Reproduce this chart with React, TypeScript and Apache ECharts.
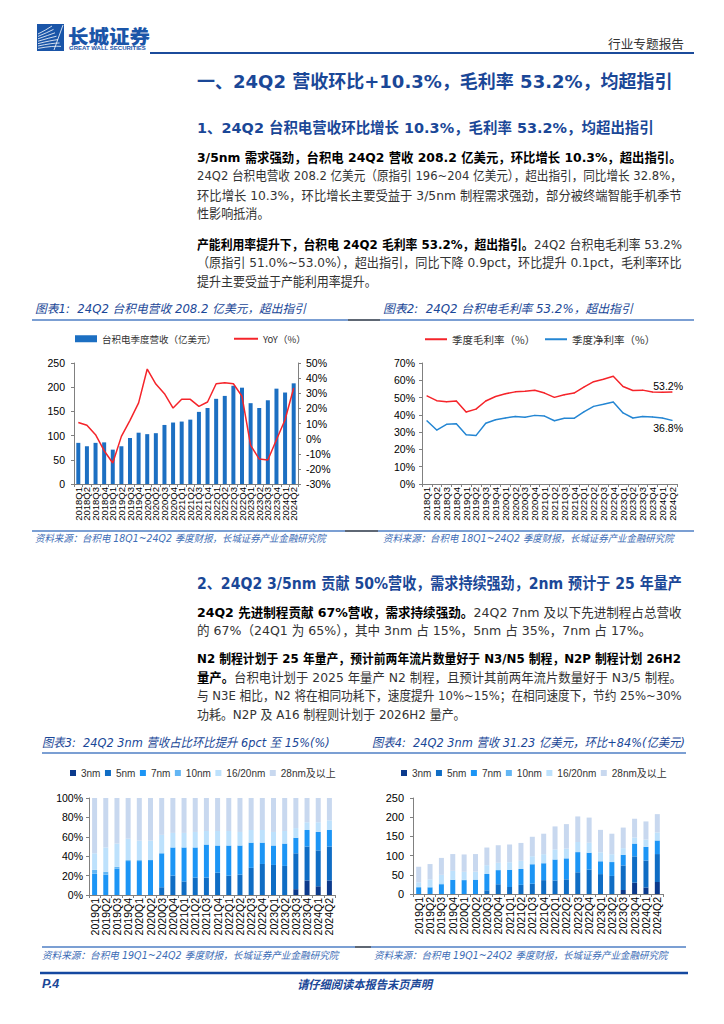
import React, { useEffect, useRef } from 'react';
import * as echarts from 'echarts';

// ---------------- DATA ----------------
const quarters18 = ['2018Q1','2018Q2','2018Q3','2018Q4','2019Q1','2019Q2','2019Q3','2019Q4','2020Q1','2020Q2','2020Q3','2020Q4','2021Q1','2021Q2','2021Q3','2021Q4','2022Q1','2022Q2','2022Q3','2022Q4','2023Q1','2023Q2','2023Q3','2023Q4','2024Q1','2024Q2'];
const quarters19 = ['2019Q1','2019Q2','2019Q3','2019Q4','2020Q1','2020Q2','2020Q3','2020Q4','2021Q1','2021Q2','2021Q3','2021Q4','2022Q1','2022Q2','2022Q3','2022Q4','2023Q1','2023Q2','2023Q3','2023Q4','2024Q1','2024Q2'];

const revenue = [85, 78, 85, 86, 71, 78, 95, 106, 103, 105, 122, 127, 129, 133, 149, 157, 176, 182, 203, 199, 167, 157, 173, 197, 189, 208];
const revenueYoY = [10.7, 8.8, 2.6, -8, -16.1, 1.5, 12.1, 23.6, 46, 36.1, 29.7, 20.2, 26, 26, 21.3, 24.2, 36.3, 37, 36.3, 28, -4.4, -13.5, -14.1, -0.7, 12.5, 33.5];
const grossMargin = [51.0, 48.2, 47.6, 48.0, 41.6, 43.3, 48.0, 50.6, 52.2, 53.3, 53.6, 54.2, 52.6, 50.1, 51.6, 52.6, 56.0, 59.2, 60.6, 62.3, 56.4, 54.1, 54.3, 53.2, 53.1, 53.2];
const netMargin = [36.6, 31.2, 34.5, 34.9, 28.5, 28.0, 35.1, 37.2, 38.2, 39.1, 38.6, 39.7, 39.3, 36.6, 38.0, 38.0, 41.7, 44.9, 46.1, 47.4, 41.1, 38.2, 39.1, 38.8, 38.2, 36.8];

const nodeNames = ['3nm', '5nm', '7nm', '10nm', '16/20nm', '28nm及以上'];

// share of revenue by node (%)
const share3nm = [0, 0, 0, 0, 0, 0, 0, 0, 0, 0, 0, 0, 0, 0, 0, 0, 0, 0, 6, 15, 9, 15];
const share5nm = [0, 0, 0, 0, 0, 0, 8, 20, 14, 18, 18, 23, 20, 21, 28, 32, 31, 30, 37, 35, 37, 35];
const share7nm = [22, 21, 27, 35, 35, 36, 35, 29, 35, 31, 34, 28, 31, 30, 26, 22, 20, 23, 16, 17, 19, 17];
const share10nm = [4, 3, 2, 1, 1, 0, 0, 0, 0, 0, 0, 0, 0, 0, 0, 0, 0, 0, 0, 0, 0, 0];
const share16nm = [17, 25, 24, 22, 20, 20, 19, 15, 15, 16, 14, 15, 15, 14, 13, 13, 14, 13, 10, 8, 10, 10];
const share28nm = [57, 51, 47, 42, 44, 44, 38, 36, 36, 35, 34, 34, 34, 35, 33, 33, 35, 34, 31, 25, 25, 23];

// revenue by node (亿美元)
const rev3nm = [0, 0, 0, 0, 0, 0, 0, 0, 0, 0, 0, 0, 0, 0, 0, 0, 0, 0, 10.4, 29.4, 17.0, 31.2];
const rev5nm = [0, 0, 0, 0, 0, 0, 9.7, 25.4, 18.1, 23.9, 26.8, 36.1, 35.2, 38.2, 56.6, 63.7, 51.8, 47.1, 64.0, 68.6, 69.9, 72.8];
const rev7nm = [15.6, 16.4, 25.4, 36.4, 36.1, 37.4, 42.4, 36.8, 45.2, 41.2, 50.7, 44.0, 54.6, 54.6, 52.5, 43.8, 33.4, 36.1, 27.7, 33.3, 35.9, 35.4];
const rev10nm = [2.8, 2.3, 1.9, 1.0, 1.0, 0, 0, 0, 0, 0, 0, 0, 0, 0, 0, 0, 0, 0, 0, 0, 0, 0];
const rev16nm = [12.1, 19.5, 22.6, 22.9, 20.6, 20.8, 23.0, 19.1, 19.4, 21.3, 20.9, 23.6, 26.4, 25.5, 26.3, 25.9, 23.4, 20.4, 17.3, 15.7, 18.9, 20.8];
const rev28nm = [40.5, 39.8, 44.1, 43.7, 45.3, 45.8, 45.9, 45.7, 46.3, 46.6, 50.6, 53.3, 59.8, 63.7, 66.6, 65.6, 58.4, 53.4, 53.6, 49.0, 47.3, 47.8];

// ---------------- STYLE ----------------
const NODE_COLORS = ['#0b3a8c', '#0f6dc4', '#1c95f5', '#62b6f4', '#bde1fc', '#c8d8ef'];
const BAR_BLUE = '#1c6fc2';
const RED = '#f5242a';
const LINE_BLUE = '#2486d3';
const DARK_BLUE = '#1a4797';
const SRC_BLUE = '#3d6db6';
const BODY = '"DejaVu Sans", "Noto Sans CJK SC", sans-serif';
const CJK = '"Noto Sans CJK SC", sans-serif';
const NUM = '"Liberation Sans", "Noto Sans CJK SC", sans-serif';

type Seg = { t: string; b?: boolean };

let measureCtx: CanvasRenderingContext2D | null = null;
function measureSegs(segs: Seg[], size: number, family: string, italic?: boolean, allBold?: boolean) {
  if (!measureCtx) measureCtx = document.createElement('canvas').getContext('2d');
  let w = 0;
  for (const s of segs) {
    const bold = allBold || s.b;
    measureCtx!.font = `${italic ? 'italic ' : ''}${bold ? 'bold ' : ''}${size}px ${family}`;
    w += measureCtx!.measureText(s.t).width;
  }
  return w;
}

type TOpt = { size: number; family?: string; color?: string; boldColor?: string; italic?: boolean; bold?: boolean; width?: number; scale?: number; align?: string; weight?: string };

function txt(x: number, y: number, segs: Seg[], o: TOpt) {
  const fam = o.family || BODY;
  const w = measureSegs(segs, o.size, fam, o.italic, o.bold);
  const sx = o.width ? o.width / w : (o.scale ?? 1);
  const mk = (b: boolean) => ({
    fontSize: o.size,
    fontFamily: fam,
    fontWeight: o.weight ? o.weight : (b || o.bold ? 'bold' : 'normal'),
    fontStyle: o.italic ? 'italic' : 'normal',
    fill: b ? (o.boldColor || o.color || '#000') : (o.color || '#333'),
  });
  const align = o.align || 'left';
  return {
    el: {
      type: 'text',
      x,
      y,
      scaleX: sx,
      silent: true,
      style: {
        text: segs.map((s) => `{${s.b ? 'b' : 'n'}|${s.t}}`).join(''),
        rich: { b: mk(true), n: mk(false) },
        fontSize: o.size,
        fontFamily: fam,
        align,
        textAlign: align,
        verticalAlign: 'middle',
        textVerticalAlign: 'middle',
      },
    },
    sx,
  };
}

function para(x: number, ys: number[], lines: { segs: Seg[]; full: boolean }[], size: number, width: number) {
  const res: any[] = [];
  const scales: number[] = [];
  lines.forEach((l) => {
    if (l.full) {
      const w = measureSegs(l.segs, size, BODY);
      scales.push(width / w);
    }
  });
  const avg = scales.length ? scales.reduce((a, b) => a + b, 0) / scales.length : 0.85;
  lines.forEach((l, i) => {
    res.push(txt(x, ys[i], l.segs, { size, color: '#333', boldColor: '#000', width: l.full ? width : undefined, scale: avg }).el);
  });
  return res;
}

function buildGraphics() {
  const g: any[] = [];
  // logo
  g.push({ type: 'rect', shape: { x: 37, y: 24, width: 27, height: 27 }, style: { fill: '#1a55a8' }, silent: true });
  for (let i = 0; i < 7; i++) {
    g.push({
      type: 'bezierCurve',
      shape: { x1: 38, y1: 34 + i * 2.4, cpx1: 46 + i * 1.2, cpy1: 30 + i * 2.6, x2: 52 + i * 1.5, y2: 26 + i * 3.4 },
      style: { stroke: '#ffffff', lineWidth: 0.8, fill: 'none' },
      silent: true,
    });
  }
  g.push({ type: 'line', shape: { x1: 54, y1: 50, x2: 63, y2: 25 }, style: { stroke: '#ffffff', lineWidth: 0.8 }, silent: true });
  g.push(txt(68, 36, [{ t: '长城证券' }], { size: 19, family: CJK, weight: '900', color: '#1a55a8', width: 82 }).el);
  g.push(txt(69, 48.5, [{ t: 'GREAT WALL SECURITIES' }], { size: 6, family: NUM, bold: true, color: '#1a55a8', width: 77 }).el);
  g.push(txt(684, 44, [{ t: '行业专题报告' }], { size: 12.5, family: CJK, color: '#333', width: 76, align: 'right' }).el);
  g.push({ type: 'line', shape: { x1: 150, y1: 53, x2: 694, y2: 53 }, style: { stroke: '#1b4b9b', lineWidth: 2 }, silent: true });

  // titles
  g.push(txt(197, 82, [{ t: '一、24Q2 营收环比+10.3%，毛利率 53.2%，均超指引' }], { size: 18, bold: true, color: DARK_BLUE, width: 476 }).el);
  g.push(txt(197, 128, [{ t: '1、24Q2 台积电营收环比增长 10.3%，毛利率 53.2%，均超出指引' }], { size: 14.5, bold: true, color: DARK_BLUE, width: 457 }).el);

  g.push(...para(197, [157, 176, 195, 213], [
    { segs: [{ t: '3/5nm 需求强劲，台积电 24Q2 营收 208.2 亿美元，环比增长 10.3%，超出指引。', b: true }], full: true },
    { segs: [{ t: '24Q2 台积电营收 208.2 亿美元（原指引 196~204 亿美元），超出指引，同比增长 32.8%，' }], full: true },
    { segs: [{ t: '环比增长 10.3%，环比增长主要受益于 3/5nm 制程需求强劲，部分被终端智能手机季节' }], full: true },
    { segs: [{ t: '性影响抵消。' }], full: false },
  ], 13, 485));
  g.push(...para(197, [244, 262, 281], [
    { segs: [{ t: '产能利用率提升下，台积电 24Q2 毛利率 53.2%，超出指引。', b: true }, { t: '24Q2 台积电毛利率 53.2%' }], full: true },
    { segs: [{ t: '（原指引 51.0%~53.0%），超出指引，同比下降 0.9pct，环比提升 0.1pct，毛利率环比' }], full: true },
    { segs: [{ t: '提升主要受益于产能利用率提升。' }], full: false },
  ], 13, 485));

  // chart 1/2 titles & lines
  g.push(txt(35, 309, [{ t: '图表1:  24Q2 台积电营收 208.2 亿美元，超出指引' }], { size: 12, italic: true, color: DARK_BLUE, width: 271 }).el);
  g.push(txt(383, 309, [{ t: '图表2:  24Q2 台积电毛利率 53.2%，超出指引' }], { size: 12, italic: true, color: DARK_BLUE, width: 250 }).el);
  g.push({ type: 'line', shape: { x1: 32, y1: 320, x2: 694, y2: 320 }, style: { stroke: '#4f7fc4', lineWidth: 1.5 }, silent: true });
  g.push({ type: 'line', shape: { x1: 348, y1: 320, x2: 380, y2: 320 }, style: { stroke: '#555555', lineWidth: 1.5 }, silent: true });
  g.push({ type: 'line', shape: { x1: 32, y1: 531, x2: 694, y2: 531 }, style: { stroke: '#4f7fc4', lineWidth: 1.5 }, silent: true });
  g.push({ type: 'line', shape: { x1: 345, y1: 531, x2: 378, y2: 531 }, style: { stroke: '#555555', lineWidth: 1.5 }, silent: true });
  g.push(txt(35, 538, [{ t: '资料来源：台积电 18Q1~24Q2 季度财报，长城证券产业金融研究院' }], { size: 10, italic: true, color: SRC_BLUE, width: 291 }).el);
  g.push(txt(383, 538, [{ t: '资料来源：台积电 18Q1~24Q2 季度财报，长城证券产业金融研究院' }], { size: 10, italic: true, color: SRC_BLUE, width: 291 }).el);

  // section 2
  g.push(txt(197, 583, [{ t: '2、24Q2 3/5nm 贡献 50%营收，需求持续强劲，2nm 预计于 25 年量产' }], { size: 15.5, bold: true, color: DARK_BLUE, width: 485 }).el);
  g.push(...para(197, [612, 630], [
    { segs: [{ t: '24Q2 先进制程贡献 67%营收，需求持续强劲。', b: true }, { t: '24Q2 7nm 及以下先进制程占总营收' }], full: true },
    { segs: [{ t: '的 67%（24Q1 为 65%），其中 3nm 占 15%，5nm 占 35%，7nm 占 17%。' }], full: false },
  ], 13, 485));
  g.push(...para(197, [658, 677, 696, 714], [
    { segs: [{ t: 'N2 制程计划于 25 年量产，预计前两年流片数量好于 N3/N5 制程，N2P 制程计划 26H2', b: true }], full: true },
    { segs: [{ t: '量产。', b: true }, { t: '台积电计划于 2025 年量产 N2 制程，且预计其前两年流片数量好于 N3/5 制程。' }], full: true },
    { segs: [{ t: '与 N3E 相比，N2 将在相同功耗下，速度提升 10%~15%；在相同速度下，节约 25%~30%' }], full: true },
    { segs: [{ t: '功耗。N2P 及 A16 制程则计划于 2026H2 量产。' }], full: false },
  ], 13, 485));

  // chart 3/4 titles & lines
  const t3 = txt(42, 743, [{ t: '图表3:  24Q2 3nm 营收占比环比提升 6pct 至 15%(%)' }], { size: 12.5, italic: true, color: DARK_BLUE, width: 288 });
  g.push(t3.el);
  g.push(txt(372, 743, [{ t: '图表4:  24Q2 3nm 营收 31.23 亿美元，环比+84%(亿美元)' }], { size: 12.5, italic: true, color: DARK_BLUE, scale: t3.sx }).el);
  g.push({ type: 'rect', shape: { x: 694, y: 732, width: 30, height: 20 }, style: { fill: '#ffffff' }, silent: true });
  g.push({ type: 'line', shape: { x1: 42, y1: 753, x2: 686, y2: 753 }, style: { stroke: '#4f7fc4', lineWidth: 1.5 }, silent: true });
  g.push({ type: 'line', shape: { x1: 42, y1: 947, x2: 686, y2: 947 }, style: { stroke: '#4f7fc4', lineWidth: 1.5 }, silent: true });
  g.push({ type: 'line', shape: { x1: 355, y1: 947, x2: 371, y2: 947 }, style: { stroke: '#555555', lineWidth: 1.5 }, silent: true });
  g.push(txt(42, 955, [{ t: '资料来源：台积电 19Q1~24Q2 季度财报，长城证券产业金融研究院' }], { size: 10, italic: true, color: SRC_BLUE, width: 297 }).el);
  g.push(txt(374, 955, [{ t: '资料来源：台积电 19Q1~24Q2 季度财报，长城证券产业金融研究院' }], { size: 10, italic: true, color: SRC_BLUE, width: 294 }).el);

  // footer
  g.push({ type: 'line', shape: { x1: 40, y1: 973, x2: 688, y2: 973 }, style: { stroke: '#1448a0', lineWidth: 2.5 }, silent: true });
  g.push(txt(42, 984, [{ t: 'P.4' }], { size: 12.5, bold: true, italic: true, family: NUM, color: DARK_BLUE }).el);
  g.push(txt(364.5, 984, [{ t: '请仔细阅读本报告末页声明' }], { size: 12, bold: true, italic: true, family: CJK, color: DARK_BLUE, width: 135, align: 'center' }).el);
  return g;
}

const axisLine = { show: true, lineStyle: { color: '#808080', width: 1 } };
const axisTick = { show: true, length: 3, lineStyle: { color: '#808080', width: 1 } };

function catAxis(gridIndex: number, data: string[], fontSize: number) {
  return {
    type: 'category',
    gridIndex,
    data,
    boundaryGap: true,
    axisLine,
    axisTick,
    splitLine: { show: false },
    axisLabel: { rotate: 90, interval: 0, fontSize, color: '#000', fontFamily: NUM, margin: 3 },
  };
}

function valAxis(gridIndex: number, min: number, max: number, interval: number, fontSize: number, margin: number, pct: boolean, position?: string) {
  return {
    type: 'value',
    gridIndex,
    min,
    max,
    interval,
    position: position || 'left',
    axisLine,
    axisTick,
    splitLine: { show: false },
    axisLabel: { fontSize, color: '#000', fontFamily: NUM, margin, formatter: pct ? '{value}%' : '{value}' },
  };
}

function oneLegend(left: number, name: string, w: number, h: number, size: number, family: string) {
  return {
    left, top: 340 - 6, padding: 0, itemWidth: w, itemHeight: h,
    textStyle: { fontSize: size, color: '#333', fontFamily: family },
    data: [{ name, icon: 'rect' }],
  };
}

function buildOption() {
  const last = (arr: number[], pos: string, dist: number) =>
    arr.map((v, i) =>
      i === arr.length - 1
        ? { value: v, label: { show: true, position: pos, distance: dist, offset: [-4, 0], formatter: '{c}%', fontSize: 10.5, fontFamily: NUM, color: '#000' } }
        : v
    );
  const shareSeries = [share3nm, share5nm, share7nm, share10nm, share16nm, share28nm];
  const revSeries = [rev3nm, rev5nm, rev7nm, rev10nm, rev16nm, rev28nm];
  const legendText = (size: number) => ({ fontSize: size, color: '#333', fontFamily: NUM });
  const lineCommon = { symbol: 'circle', symbolSize: 1, showSymbol: true };
  return {
    animation: false,
    backgroundColor: '#ffffff',
    grid: [
      { left: 74, top: 363, width: 224, height: 121 },
      { left: 422, top: 363, width: 255, height: 121 },
      { left: 89, top: 798, width: 246, height: 97 },
      { left: 413, top: 798, width: 250, height: 96 },
    ],
    legend: [
      { ...oneLegend(75, '台积电季度营收（亿美元）', 22, 7, 9.5, CJK) },
      { ...oneLegend(234, 'YoY（%）', 24, 2, 9.5, CJK) },
      { ...oneLegend(425, '季度毛利率（%）', 22, 2, 10.5, CJK) },
      { ...oneLegend(545, '季度净利率（%）', 22, 2, 10.5, CJK) },
      {
        left: 70, top: 768, padding: 0, itemWidth: 6, itemHeight: 6, itemGap: 4.5,
        textStyle: legendText(10),
        data: nodeNames.map((n) => ({ name: n, icon: 'rect' })),
      },
      {
        left: 401, top: 768, padding: 0, itemWidth: 6, itemHeight: 6, itemGap: 4.5,
        textStyle: legendText(10),
        data: nodeNames.map((n) => ({ name: n, icon: 'rect' })),
      },
    ],
    xAxis: [catAxis(0, quarters18, 9.5), catAxis(1, quarters18, 9.5), catAxis(2, quarters19, 10.5), catAxis(3, quarters19, 10.5)],
    yAxis: [
      valAxis(0, 0, 250, 50, 10.5, 9, false),
      valAxis(0, -30, 50, 10, 10.5, 8, true, 'right'),
      valAxis(1, 0, 70, 10, 10.5, 7, true),
      valAxis(2, 0, 100, 20, 10.5, 6, true),
      valAxis(3, 0, 250, 50, 11, 9, false),
    ],
    series: [
      { name: '台积电季度营收（亿美元）', type: 'bar', xAxisIndex: 0, yAxisIndex: 0, data: revenue, barWidth: 4, itemStyle: { color: BAR_BLUE } },
      { name: 'YoY（%）', type: 'line', xAxisIndex: 0, yAxisIndex: 1, data: revenueYoY, symbol: 'none', lineStyle: { color: RED, width: 1.5 }, itemStyle: { color: RED } },
      { name: '季度毛利率（%）', type: 'line', xAxisIndex: 1, yAxisIndex: 2, data: last(grossMargin, 'top', 0), ...lineCommon, lineStyle: { color: RED, width: 1.5 }, itemStyle: { color: RED } },
      { name: '季度净利率（%）', type: 'line', xAxisIndex: 1, yAxisIndex: 2, data: last(netMargin, 'bottom', 2), ...lineCommon, lineStyle: { color: LINE_BLUE, width: 1.5 }, itemStyle: { color: LINE_BLUE } },
      ...nodeNames.map((n, i) => ({ name: n, type: 'bar', stack: 'share', xAxisIndex: 2, yAxisIndex: 3, data: shareSeries[i], barWidth: 5, itemStyle: { color: NODE_COLORS[i] } })),
      ...nodeNames.map((n, i) => ({ name: n, type: 'bar', stack: 'rev', xAxisIndex: 3, yAxisIndex: 4, data: revSeries[i], barWidth: 5, itemStyle: { color: NODE_COLORS[i] } })),
    ],
    graphic: { elements: buildGraphics() },
  };
}

export default function App() {
  const ref = useRef<HTMLDivElement>(null);
  useEffect(() => {
    if (!ref.current) return;
    const chart = echarts.init(ref.current, undefined, { renderer: 'svg' });
    chart.setOption(buildOption() as any);
    return () => chart.dispose();
  }, []);
  return <div ref={ref} style={{ position: 'absolute', left: 0, top: 0, width: 724, height: 1024, background: '#fff' }} />;
}
